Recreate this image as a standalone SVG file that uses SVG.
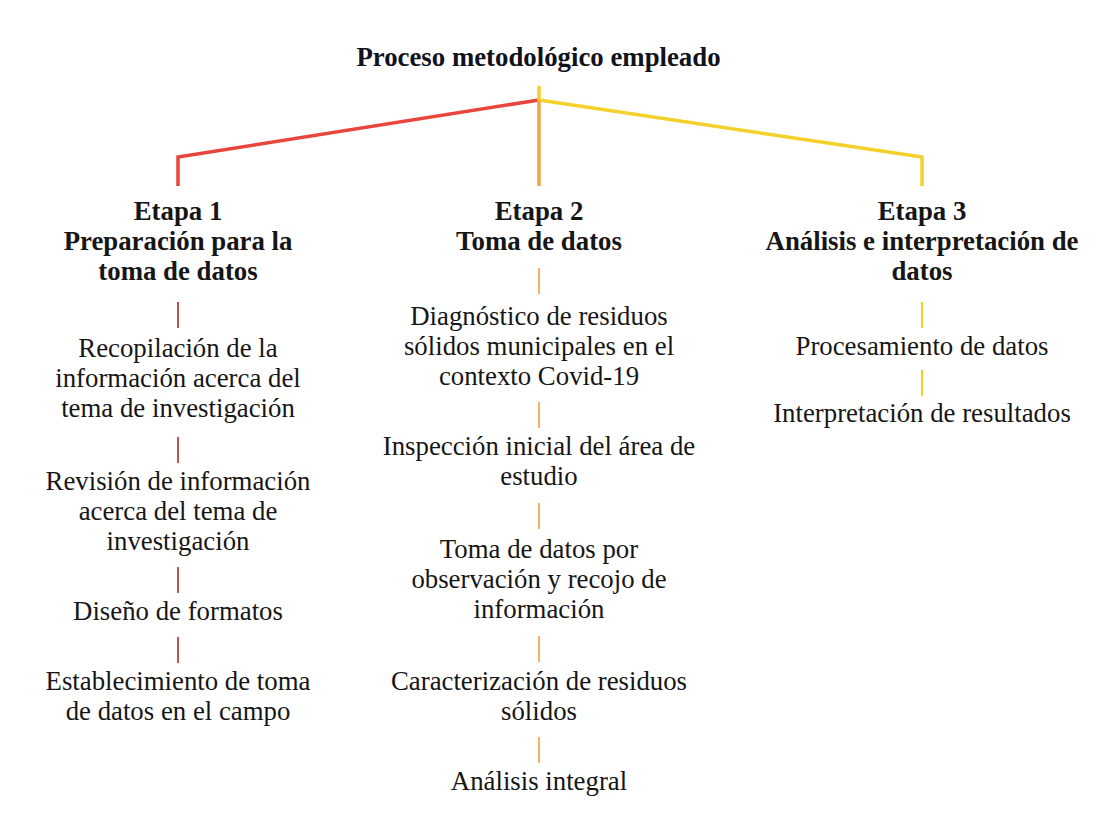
<svg xmlns="http://www.w3.org/2000/svg" width="1099" height="829" viewBox="0 0 1099 829">
<style>
  text { font-family: "Liberation Serif", Tinos, "Times New Roman", serif; font-size: 26.8px; fill: #161616; text-anchor: middle; }
  .b { font-weight: bold; }
  .t { font-weight: bold; fill: #10121c; }
  .main { fill: none; stroke-width: 3.5; stroke-linejoin: miter; }
  .c1 { stroke: #c0504d; stroke-width: 2; }
  .c2 { stroke: #f0b35e; stroke-width: 2; }
  .c3 { stroke: #f2cf2a; stroke-width: 2; }
</style>
<rect width="1099" height="829" fill="#ffffff"/>
<g id="title">
  <text class="t" x="538.5" y="66">Proceso metodológico empleado</text>
</g>
<g id="connectors">
  <polyline class="main" stroke="#e8463c" points="539,100 178,157 178,186"/>
  <polyline class="main" stroke="#f5d02a" points="539,100 922,157 922,186"/>
  <line class="main" stroke="#f2a248" x1="539" y1="100" x2="539" y2="186"/>
  <line class="main" stroke="#f5d02a" x1="539" y1="86" x2="539" y2="101"/>
  <line class="c1" x1="178" y1="302" x2="178" y2="328"/>
  <line class="c1" x1="178" y1="437" x2="178" y2="463"/>
  <line class="c1" x1="178" y1="567" x2="178" y2="593"/>
  <line class="c1" x1="178" y1="637" x2="178" y2="663"/>
  <line class="c2" x1="539" y1="268" x2="539" y2="294"/>
  <line class="c2" x1="539" y1="402" x2="539" y2="428"/>
  <line class="c2" x1="539" y1="503" x2="539" y2="529"/>
  <line class="c2" x1="539" y1="636" x2="539" y2="662"/>
  <line class="c2" x1="539" y1="737" x2="539" y2="763"/>
  <line class="c3" x1="922" y1="302" x2="922" y2="328"/>
  <line class="c3" x1="922" y1="370" x2="922" y2="396"/>
</g>
<g id="etapa1">
  <text class="b" x="178" y="220">Etapa 1</text>
  <text class="b" x="178" y="250">Preparación para la</text>
  <text class="b" x="178" y="280">toma de datos</text>
</g>
<g id="n1a">
  <text x="178" y="357">Recopilación de la</text>
  <text x="178" y="387">información acerca del</text>
  <text x="178" y="417">tema de investigación</text>
</g>
<g id="n1b">
  <text x="178" y="490">Revisión de información</text>
  <text x="178" y="520">acerca del tema de</text>
  <text x="178" y="550">investigación</text>
</g>
<g id="n1c">
  <text x="178" y="620">Diseño de formatos</text>
</g>
<g id="n1d">
  <text x="178" y="690">Establecimiento de toma</text>
  <text x="178" y="720">de datos en el campo</text>
</g>
<g id="etapa2">
  <text class="b" x="539" y="220">Etapa 2</text>
  <text class="b" x="539" y="250">Toma de datos</text>
</g>
<g id="n2a">
  <text x="539" y="325">Diagnóstico de residuos</text>
  <text x="539" y="355">sólidos municipales en el</text>
  <text x="539" y="385">contexto Covid-19</text>
</g>
<g id="n2b">
  <text x="539" y="455">Inspección inicial del área de</text>
  <text x="539" y="485">estudio</text>
</g>
<g id="n2c">
  <text x="539" y="558">Toma de datos por</text>
  <text x="539" y="588">observación y recojo de</text>
  <text x="539" y="618">información</text>
</g>
<g id="n2d">
  <text x="539" y="690">Caracterización de residuos</text>
  <text x="539" y="720">sólidos</text>
</g>
<g id="n2e">
  <text x="539" y="790">Análisis integral</text>
</g>
<g id="etapa3">
  <text class="b" x="922" y="220">Etapa 3</text>
  <text class="b" x="922" y="250">Análisis e interpretación de</text>
  <text class="b" x="922" y="280">datos</text>
</g>
<g id="n3a">
  <text x="922" y="355">Procesamiento de datos</text>
</g>
<g id="n3b">
  <text x="922" y="422">Interpretación de resultados</text>
</g>
</svg>
